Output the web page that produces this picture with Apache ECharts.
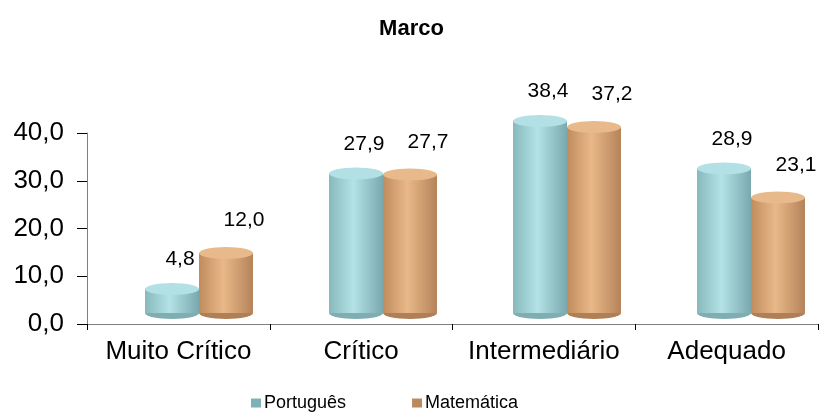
<!DOCTYPE html>
<html>
<head>
<meta charset="utf-8">
<script src="https://cdn.jsdelivr.net/npm/echarts@6/dist/echarts.min.js"></script>
<style>
    html, body {margin: 0; padding: 0; background: #fff;}
    #chart {width: 823px; height: 417px;}
</style>
</head>
<body>
<div id="chart"></div>
<script>
// Marco - percentual por nível
var categorias = ['Muito Crítico', 'Crítico', 'Intermediário', 'Adequado'];
var portugues = [4.8, 27.9, 38.4, 28.9];
var matematica = [12.0, 27.7, 37.2, 23.1];
var yTicks = [0, 10, 20, 30, 40];

var fmt = function (v) {
    return v.toFixed(1).replace('.', ',');
};

// gradiente horizontal para simular cilindro
function cilindro(esq, meio, dir) {
    return new echarts.graphic.LinearGradient(0, 0, 1, 0, [
        {offset: 0, color: esq},
        {offset: 0.45, color: meio},
        {offset: 1, color: dir}
    ]);
}

var corPt = cilindro('#86b9bd', '#b4e2e6', '#79a9ae');
var corMt = cilindro('#c08c5e', '#e9b888', '#b5835a');
var topoPt = '#b2e0e4';
var topoMt = '#e8b98b';

var font = 'Arial, "Liberation Sans", sans-serif';
var barW = 54;

var chart = echarts.init(document.getElementById('chart'));
var option = {
    animation: false,
    title: {
        text: 'Marco',
        left: 'center',
        top: 13,
        textStyle: {fontFamily: font, fontSize: 22, fontWeight: 'bold', color: '#000'}
    },
    legend: {
        bottom: 0,
        left: 246,
        itemWidth: 10,
        itemHeight: 9,
        itemGap: 66,
        icon: 'rect',
        textStyle: {fontFamily: font, fontSize: 18, color: '#000', padding: [0, 0, 0, -2]},
        data: [
            {name: 'Português', itemStyle: {color: '#7fb0b5'}},
            {name: 'Matemática', itemStyle: {color: '#b98a5e'}}
        ]
    },
    grid: [
        // eixos visíveis
        {left: 87, right: 5, top: 133, bottom: 93, outerBoundsMode: 'none'},
        // "piso" 3D onde ficam os cilindros
        {left: 107, width: 736, top: 113, height: 200, outerBoundsMode: 'none'}
    ],
    xAxis: [
        {
            type: 'category',
            gridIndex: 0,
            data: categorias,
            axisLine: {lineStyle: {color: '#7f7f7f', width: 1}},
            axisTick: {show: true, interval: 0, length: 6, lineStyle: {color: '#000'}},
            axisLabel: {interval: 0, fontFamily: font, fontSize: 26, color: '#000', margin: 15}
        },
        {
            type: 'category',
            gridIndex: 1,
            data: categorias,
            show: false
        }
    ],
    yAxis: [
        {
            type: 'value',
            gridIndex: 0,
            min: 0,
            max: 40,
            interval: 10,
            axisLine: {show: true, lineStyle: {color: '#7f7f7f'}},
            axisTick: {show: true, length: 10, lineStyle: {color: '#000'}},
            splitLine: {show: false},
            axisLabel: {
                fontFamily: font, fontSize: 26, color: '#000', margin: 23,
                formatter: function (v) { return fmt(v); }
            }
        },
        {
            type: 'value',
            gridIndex: 1,
            min: 0,
            max: 40,
            show: false
        }
    ],
    series: [
        {
            name: 'Português',
            type: 'bar',
            xAxisIndex: 1,
            yAxisIndex: 1,
            barWidth: barW,
            barGap: '0%',
            clip: false,
            z: 2,
            itemStyle: {color: corPt},
            label: {
                show: true,
                position: 'top',
                distance: 19,
                offset: [8, 0],
                fontFamily: font,
                fontSize: 21,
                color: '#000',
                formatter: function (p) { return fmt(p.value); }
            },
            data: portugues
        },
        {
            name: 'Matemática',
            type: 'bar',
            xAxisIndex: 1,
            yAxisIndex: 1,
            barWidth: barW,
            barGap: '0%',
            clip: false,
            z: 2,
            itemStyle: {color: corMt},
            label: {
                show: true,
                position: 'top',
                distance: 22,
                offset: [18, 0],
                fontFamily: font,
                fontSize: 21,
                color: '#000',
                formatter: function (p) { return fmt(p.value); }
            },
            data: matematica
        },
        // tampas superiores
        {
            name: 'Português',
            type: 'pictorialBar',
            xAxisIndex: 1,
            yAxisIndex: 1,
            symbol: 'circle',
            symbolSize: [barW, 12],
            symbolPosition: 'end',
            symbolOffset: ['-50%', '-50%'],
            clip: false,
            z: 4,
            itemStyle: {color: topoPt},
            data: portugues
        },
        {
            name: 'Matemática',
            type: 'pictorialBar',
            xAxisIndex: 1,
            yAxisIndex: 1,
            symbol: 'circle',
            symbolSize: [barW, 12],
            symbolPosition: 'end',
            symbolOffset: ['50%', '-50%'],
            clip: false,
            z: 4,
            itemStyle: {color: topoMt},
            data: matematica
        },
        // bases arredondadas
        {
            name: 'Português',
            type: 'pictorialBar',
            xAxisIndex: 1,
            yAxisIndex: 1,
            symbol: 'circle',
            symbolSize: [barW, 12],
            symbolPosition: 'start',
            symbolOffset: ['-50%', '50%'],
            clip: false,
            z: 1,
            itemStyle: {color: '#7fadb1'},
            data: portugues
        },
        {
            name: 'Matemática',
            type: 'pictorialBar',
            xAxisIndex: 1,
            yAxisIndex: 1,
            symbol: 'circle',
            symbolSize: [barW, 12],
            symbolPosition: 'start',
            symbolOffset: ['50%', '50%'],
            clip: false,
            z: 1,
            itemStyle: {color: '#b07f55'},
            data: matematica
        }
    ]
};
chart.setOption(option);
</script>
</body>
</html>
